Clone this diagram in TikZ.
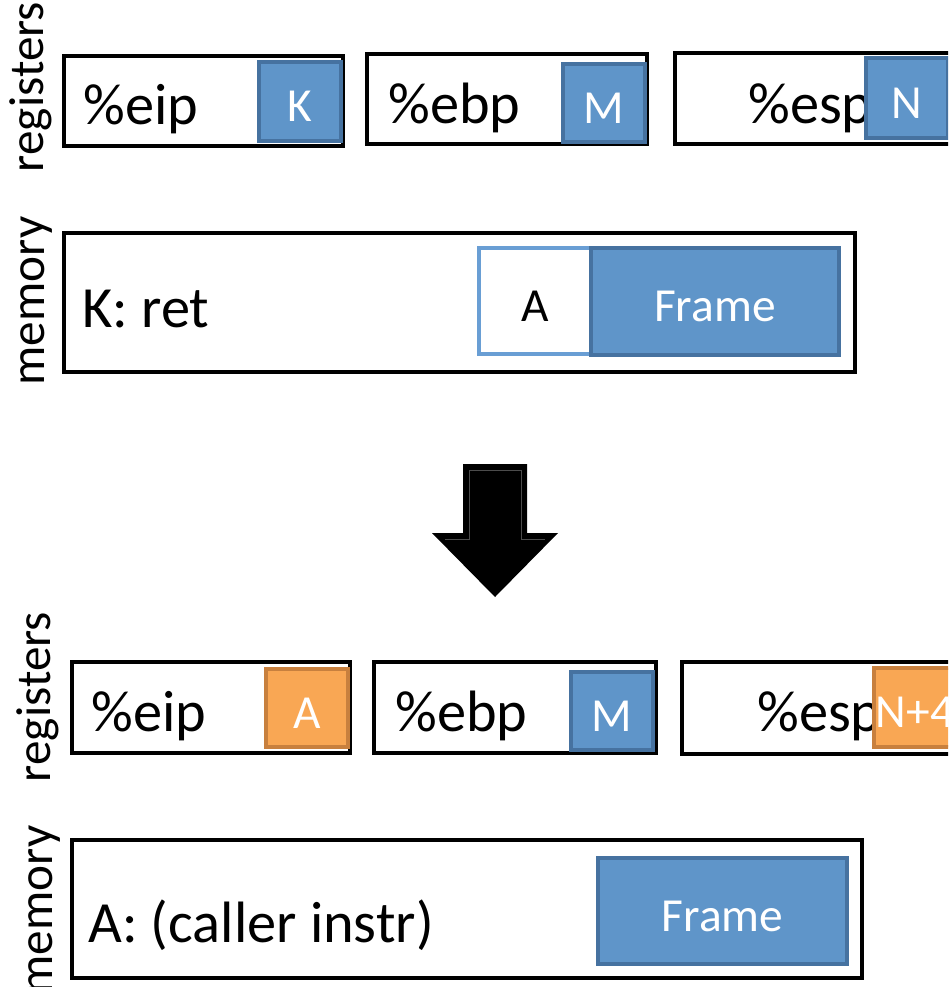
\documentclass[tikz,border=0pt]{standalone}
\usepackage{fontspec}
\setmainfont{Carlito}
\definecolor{valfill}{RGB}{95,149,201}
\definecolor{valline}{RGB}{70,114,160}
\definecolor{newfill}{RGB}{249,167,84}
\definecolor{newline}{RGB}{200,128,62}
\definecolor{retline}{RGB}{105,158,212}
\newcommand{\bigtxt}{\fontsize{33.2}{40}\selectfont}
\newcommand{\smalltxt}{\fontsize{27}{32}\selectfont}
\begin{document}
\begin{tikzpicture}
[x=0.02cm,y=-0.02cm,
 reg/.style={draw=black,line width=2.3pt,fill=white,inner sep=0pt},
 val/.style={draw=valline,line width=1.8pt,fill=valfill,text=white,inner sep=0pt,
             font=\smalltxt,text height=23pt,text depth=0pt},
 newval/.style={val,draw=newline,fill=newfill},
 regtext/.style={anchor=base west,inner sep=0pt,font=\bigtxt},
 side/.style={rotate=90,anchor=base,inner sep=0pt,font=\fontsize{28}{32}\selectfont}]

\useasboundingbox (0,0) rectangle (948,987);
\clip (0,0) rectangle (948,987);

% before: the registers
\node[reg,minimum width=5.58cm,minimum height=1.80cm] (eip1) at (203.5,101) {};
\node[reg,minimum width=5.60cm,minimum height=1.80cm] (ebp1) at (507,99) {};
\node[reg,minimum width=5.62cm,minimum height=1.82cm] (esp1) at (815,98.5) {};
\node[regtext] (eipname1) at (83,124) {\%eip};
\node[regtext] (ebpname1) at (388,123) {\%ebp};
\node[regtext] (espname1) at (748,123) {\%esp};
\node[val,minimum width=1.64cm,minimum height=1.58cm] (eipval1) at (300,101.5) {K};
\node[val,minimum width=1.64cm,minimum height=1.56cm] (ebpval1) at (604,103) {M};
\node[val,minimum width=1.64cm,minimum height=1.60cm] (espval1) at (907,98) {N};
\node[side] (regs1) at (43,87) {registers};

% before: the memory
\node[reg,minimum width=15.82cm,minimum height=2.78cm] (mem1) at (459.5,302.5) {};
\node[regtext] (instr1) at (82,327) {K: ret};
\node[val,draw=retline,fill=white,text=black,
      minimum width=2.24cm,minimum height=2.12cm] (ret1) at (535,301) {A};
\node[val,minimum width=4.96cm,minimum height=2.14cm] (frame1) at (715,301.5) {Frame};
\node[side] (mems1) at (44,301) {memory};

% the step
\fill[black] (463,464) -- (527,464) -- (527,533) -- (558,533) -- (495,597)
  -- (432,533) -- (463,533) -- cycle;
\draw[black!70,line width=0.5pt] (469,470) -- (521,470) -- (521,539) -- (545,539);
\draw[black!70,line width=0.5pt] (469,470) -- (469,539) -- (445,539);

% after: the registers
\node[reg,minimum width=5.56cm,minimum height=1.82cm] (eip2) at (211,707.5) {};
\node[reg,minimum width=5.64cm,minimum height=1.82cm] (ebp2) at (515,707.5) {};
\node[reg,minimum width=5.60cm,minimum height=1.84cm] (esp2) at (822,708) {};
\node[regtext] (eipname2) at (91,731) {\%eip};
\node[regtext] (ebpname2) at (395,731) {\%ebp};
\node[regtext] (espname2) at (757,731) {\%esp};
\node[newval,minimum width=1.64cm,minimum height=1.56cm] (eipval2) at (307,708) {A};
\node[val,minimum width=1.64cm,minimum height=1.56cm] (ebpval2) at (612,711) {M};
\node[newval,minimum width=1.64cm,minimum height=1.58cm] (espval2) at (915,707.5) {N+4};
\node[side] (regs2) at (51,697) {registers};

% after: the memory
\node[reg,minimum width=15.80cm,minimum height=2.76cm] (mem2) at (467,909) {};
\node[regtext] (instr2) at (88,942) {A: (caller instr)};
\node[val,minimum width=4.98cm,minimum height=2.12cm] (frame2) at (722.5,911) {Frame};
\node[side] (mems2) at (52,910) {memory};

\end{tikzpicture}
\end{document}
